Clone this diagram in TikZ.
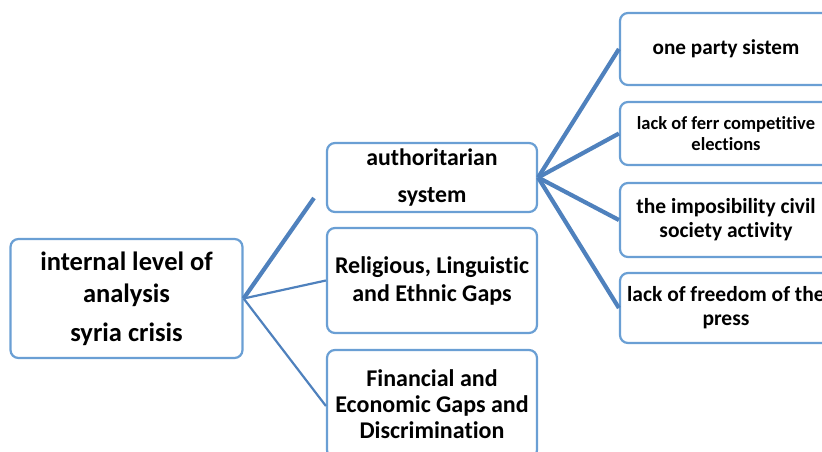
\documentclass[tikz,border=0pt]{standalone}
\usepackage{fontspec}
\setmainfont[Ligatures=NoCommon]{Carlito}
\definecolor{boxblue}{HTML}{6A9FD4}
\definecolor{linkblue}{HTML}{4F81BD}
\begin{document}
\begin{tikzpicture}[x=1pt,y=-1pt,
  box/.style={draw=boxblue, line width=2.2pt, rounded corners=8pt, fill=white,
    align=center, font=\bfseries, inner sep=1pt},
  thicklink/.style={draw=linkblue, line width=4.2pt},
  thinlink/.style={draw=linkblue, line width=2.2pt}]
\useasboundingbox (0,0) rectangle (822,452);
\clip (0,0) rectangle (822,452);
% root
\node[box, minimum width=232pt, minimum height=119pt, font=\bfseries\fontsize{26.5}{32}\selectfont]
  (root) at (126.5,298.5) {internal level of\\analysis\\[7pt]syria crisis};
% middle
\node[box, minimum width=210pt, minimum height=69pt, font=\bfseries\fontsize{23.8}{37}\selectfont]
  (auth) at (432,177.5) {authoritarian\\system};
\node[box, minimum width=210pt, minimum height=105pt, font=\bfseries\fontsize{24}{28}\selectfont]
  (rel) at (432,280.5) {Religious, Linguistic\\and Ethnic Gaps};
\node[box, minimum width=210pt, minimum height=108pt, font=\bfseries\fontsize{24}{26}\selectfont]
  (fin) at (432,404) {Financial and\\Economic Gaps and\\Discrimination};
% right
\node[box, minimum width=212pt, minimum height=72pt, font=\bfseries\fontsize{21.2}{24}\selectfont]
  (r1) at (726,49) {one party sistem};
\node[box, minimum width=212pt, minimum height=63pt, font=\bfseries\fontsize{18.5}{21}\selectfont]
  (r2) at (726,133.5) {lack of ferr competitive\\elections};
\node[box, minimum width=212pt, minimum height=74pt, font=\bfseries\fontsize{21.5}{24}\selectfont]
  (r3) at (726,220) {the imposibility civil\\society activity};
\node[box, minimum width=212pt, minimum height=70pt, font=\bfseries\fontsize{21.5}{24}\selectfont]
  (r4) at (726,308) {lack of freedom of the\\press};
% connectors
\coordinate (authend) at (314,198);
\draw[thicklink] (root.east) -- (authend);
\draw[thinlink] (root.east) -- (rel.west);
\draw[thinlink] (root.east) -- ([yshift=-2pt]fin.west);
\draw[thicklink] (auth.east) -- (r1.west);
\draw[thicklink] (auth.east) -- (r2.west);
\draw[thicklink] (auth.east) -- (r3.west);
\draw[thicklink] (auth.east) -- (r4.west);
\end{tikzpicture}
\end{document}
